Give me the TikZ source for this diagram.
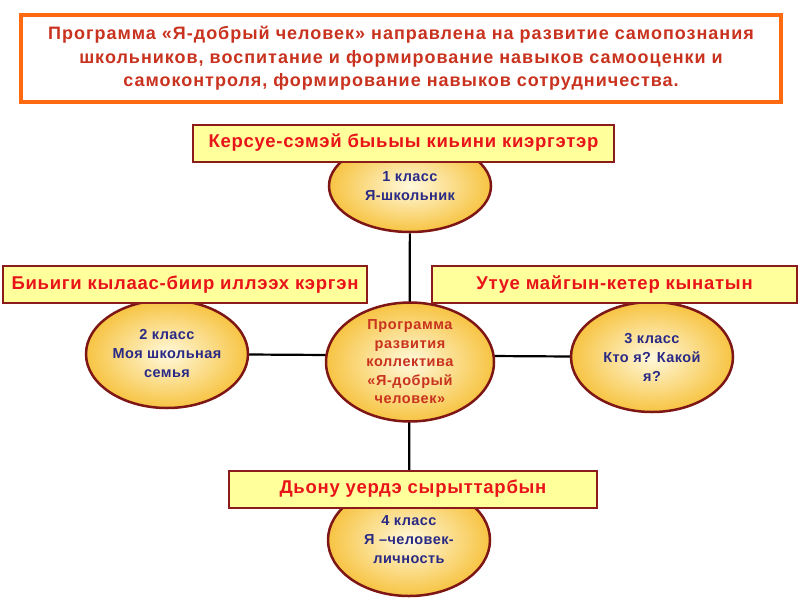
\documentclass[tikz,border=0pt]{standalone}
\usepackage{fontspec}
\setmainfont{Liberation Sans}
\usetikzlibrary{shapes.geometric,backgrounds}

\definecolor{aimrim}{HTML}{FF6A10}
\definecolor{aimtext}{HTML}{C8321E}
\definecolor{tagfill}{HTML}{FFFF9C}
\definecolor{tagrim}{HTML}{8C1C1C}
\definecolor{tagtext}{HTML}{E8141A}
\definecolor{ovalrim}{HTML}{7E1616}
\definecolor{ovalin}{HTML}{FFF9DC}
\definecolor{ovalout}{HTML}{F7C443}
\definecolor{classblue}{HTML}{2A2A86}

\begin{document}
\begin{tikzpicture}[x=1pt,y=-1pt,
  aim/.style={draw=aimrim, line width=4.5pt, fill=white, text=aimtext,
    minimum width=760pt, minimum height=87pt, align=center,
    font=\fontsize{18}{23.5}\selectfont\bfseries\addfontfeature{LetterSpace=5.5}},
  class/.style={ellipse, draw=ovalrim, line width=2.5pt, inner color=ovalin,
    outer color=ovalout, minimum width=162pt, minimum height=100pt,
    inner sep=0pt, align=center, text=classblue,
    font=\fontsize{14.5}{19}\selectfont\bfseries\addfontfeature{LetterSpace=3}},
  hub/.style={class, minimum width=168pt, minimum height=115pt,
    text=aimtext, font=\fontsize{14.5}{18.5}\selectfont\bfseries\addfontfeature{LetterSpace=4}},
  tag/.style={draw=tagrim, line width=2pt, fill=tagfill, text=tagtext,
    minimum height=37pt, inner xsep=4pt,
    font=\fontsize{18.5}{20}\selectfont\bfseries\addfontfeature{LetterSpace=4}},
  link/.style={line width=2.2pt, black}]

\useasboundingbox (0,0) rectangle (800,600);

% goal of the programme
\node[aim] (aim) at (401,58.5) {Программа «Я-добрый человек» направлена на развитие самопознания\\
  школьников, воспитание и формирование навыков самооценки и\\
  самоконтроля, формирование навыков сотрудничества.};

% classes round the hub
\node[hub] (hub) at (410,362) {Программа\\развития\\коллектива\\«Я-добрый\\человек»};
\node[class, minimum height=92pt] (c1) at (410,186) {1 класс\\Я-школьник};
\node[class, minimum height=108pt] (c2) at (167,354) {2 класс\\Моя школьная\\семья};
\node[class, minimum height=110pt] (c3) at (652,357) {3 класс\\Кто я? Какой\\я?};
\node[class, minimum height=112pt] (c4) at (409,540) {4 класс\\Я –человек-\\личность};

% tags over the classes
\node[tag, minimum width=421pt] (t1) at (403.5,143) {Керсуе-сэмэй быьыы киьини киэргэтэр};
\node[tag, minimum width=364pt] (t2) at (185,284.5) {Биьиги кылаас-биир иллээх кэргэн};
\node[tag, minimum width=365pt] (t3) at (614.5,284.5) {Утуе майгын-кетер кынатын};
\node[tag, minimum width=368pt] (t4) at (413,489) {Дьону уердэ сырыттарбын};

\begin{scope}[on background layer]
  \draw[link] (c1) -- (c4);
  \draw[link] (c2) -- (c3);
\end{scope}

\end{tikzpicture}
\end{document}
